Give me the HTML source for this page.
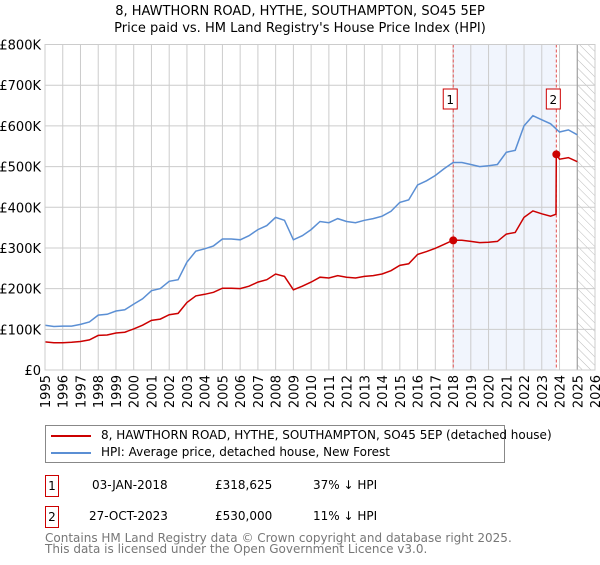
<!DOCTYPE html>
<html><head><meta charset="utf-8"><style>
body{margin:0;background:#fff;font-family:"Liberation Sans","DejaVu Sans",sans-serif}
svg text{font-family:"DejaVu Sans","Liberation Sans",sans-serif}
</style></head><body>
<svg id="c" width="600" height="560" xmlns="http://www.w3.org/2000/svg">
<defs><pattern id="hatch" width="6" height="6" patternUnits="userSpaceOnUse" patternTransform="rotate(-45)"><line x1="0" y1="0" x2="0" y2="6" stroke="#bbb" stroke-width="1"/></pattern></defs>
<text x="300" y="15" text-anchor="middle" font-size="13">8, HAWTHORN ROAD, HYTHE, SOUTHAMPTON, SO45 5EP</text>
<text x="300" y="32" text-anchor="middle" font-size="13">Price paid vs. HM Land Registry's House Price Index (HPI)</text>
<g id="plot"></g>
</svg>
<script>
const years=[1995,1995.5,1996,1996.5,1997,1997.5,1998,1998.5,1999,1999.5,2000,2000.5,2001,2001.5,2002,2002.5,2003,2003.5,2004,2004.5,2005,2005.5,2006,2006.5,2007,2007.5,2008,2008.5,2009,2009.5,2010,2010.5,2011,2011.5,2012,2012.5,2013,2013.5,2014,2014.5,2015,2015.5,2016,2016.5,2017,2017.5,2018,2018.5,2019,2019.5,2020,2020.5,2021,2021.5,2022,2022.5,2023,2023.5,2024,2024.5,2025];
const hpi=[110,107,108,108,112,118,135,137,145,148,162,175,195,200,218,222,265,292,298,305,322,322,320,330,345,355,375,368,320,330,345,365,362,372,365,362,368,372,378,390,412,418,455,465,478,495,510,510,505,500,502,505,535,540,600,625,615,605,585,590,578];
const redYears=[1995,1995.5,1996,1996.5,1997,1997.5,1998,1998.5,1999,1999.5,2000,2000.5,2001,2001.5,2002,2002.5,2003,2003.5,2004,2004.5,2005,2005.5,2006,2006.5,2007,2007.5,2008,2008.5,2009,2009.5,2010,2010.5,2011,2011.5,2012,2012.5,2013,2013.5,2014,2014.5,2015,2015.5,2016,2016.5,2017,2017.5,2018,2018.5,2019,2019.5,2020,2020.5,2021,2021.5,2022,2022.5,2023,2023.5,2023.8,2023.82,2024,2024.5,2025];
const red=[69,67,67,68,70,74,85,86,91,93,101,110,122,125,136,139,166,182,186,191,201,201,200,206,216,222,236,230,197,206,216,228,226,232,228,226,230,232,236,244,257,261,284,291,299,309,319,319,316,313,314,316,334,338,375,391,384,378,383,530,518,522,512];
const saleYears=[2018.01,2023.82];
const saleValues=[318.625,530];
const saleLabels=["1","2"];
const yTicks=[0,100,200,300,400,500,600,700,800];
const yTickLabels=["£0","£100K","£200K","£300K","£400K","£500K","£600K","£700K","£800K"];
const xTicks=[];for(let y=1995;y<=2026;y++)xTicks.push(y);

const X0=45,X1=595,Y0=370,Y1=44.5;
const xs=v=>X0+(v-1995)/(2026-1995)*(X1-X0);
const ys=v=>Y0-(v/800)*(Y0-Y1);
const NS="http://www.w3.org/2000/svg";
const g=document.getElementById('plot');
function mk(t,a,p){const e=document.createElementNS(NS,t);for(const k in a)e.setAttribute(k,a[k]);(p||g).appendChild(e);return e;}
let e;
e=mk('rect',{x:xs(saleYears[0]),y:Y1,width:xs(saleYears[1])-xs(saleYears[0]),height:Y0-Y1,fill:'#eef3fc',opacity:0.8});


e=mk('rect',{x:xs(2025),y:Y1,width:X1-xs(2025),height:Y0-Y1,fill:'url(#hatch)'});


xTicks.forEach(t=>{
 e=mk('line',{x1:xs(t),x2:xs(t),y1:Y1,y2:Y0,stroke:'#ccc','stroke-width':1});
 
 
 e=mk('text',{x:0,y:0,'font-size':13,'text-anchor':'end',transform:`translate(${xs(t)+5},${Y0+5}) rotate(-90)`});
 e.textContent=t;
 
 
});
yTicks.forEach((t,i)=>{
 e=mk('line',{x1:X0,x2:X1,y1:ys(t),y2:ys(t),stroke:'#ccc','stroke-width':1});
 
 
 e=mk('text',{x:X0-4,y:ys(t)+5,'font-size':13,'text-anchor':'end'});
 e.textContent=yTickLabels[i];
 
 
});
e=mk('line',{x1:xs(2025),x2:xs(2025),y1:Y1,y2:Y0,stroke:'#999','stroke-width':1});


saleYears.forEach((s,i)=>{
 e=mk('line',{x1:xs(s),x2:xs(s),y1:Y1,y2:Y0,stroke:'#e05050','stroke-width':1,'stroke-dasharray':'3,2'});
 
 
 e=mk('rect',{x:xs(s)-10,y:89,width:14,height:20,fill:'#fff',stroke:'#c00','stroke-width':1});
 
 
 e=mk('text',{x:xs(s)-3,y:104,'font-size':12,'text-anchor':'middle'});
 e.textContent=saleLabels[i];
 
 
});
e=mk('path',{d:years.map((y,i)=>(i?'L':'M')+xs(y).toFixed(1)+','+ys(hpi[i]).toFixed(1)).join(''),fill:'none',stroke:'#5b8fd4','stroke-width':1.5});


e=mk('path',{d:redYears.map((y,i)=>(i?'L':'M')+xs(y).toFixed(1)+','+ys(red[i]).toFixed(1)).join(''),fill:'none',stroke:'#cc0000','stroke-width':1.5});


saleYears.forEach((s,i)=>{
 e=mk('circle',{cx:xs(s),cy:ys(saleValues[i]),r:4,fill:'#cc0000'});
 
 
});
e=mk('rect',{x:X0,y:Y1,width:X1-X0,height:Y0-Y1,fill:'none',stroke:'#ccc'});


</script>
<div style="position:absolute;left:45px;top:425px;width:458px;height:36px;border:1px solid #888;font-size:12px;font-family:'DejaVu Sans','Liberation Sans',sans-serif">
 <div style="position:absolute;left:5px;top:2px;white-space:nowrap"><span style="display:inline-block;width:40px;height:2px;background:#cc0000;vertical-align:middle;margin-right:10px"></span>8, HAWTHORN ROAD, HYTHE, SOUTHAMPTON, SO45 5EP (detached house)</div>
 <div style="position:absolute;left:5px;top:19px;white-space:nowrap"><span style="display:inline-block;width:40px;height:2px;background:#5b8fd4;vertical-align:middle;margin-right:10px"></span>HPI: Average price, detached house, New Forest</div>
</div>
<div style="position:absolute;left:45px;top:475px;font-size:12px;font-family:'DejaVu Sans','Liberation Sans',sans-serif">
 <div style="position:absolute;top:0;white-space:nowrap">
  <span style="position:absolute;left:0;top:0;width:12px;height:20px;border:1px solid #c00;text-align:center;line-height:20px">1</span>
  <span style="position:absolute;left:47px;top:3px">03-JAN-2018</span>
  <span style="position:absolute;left:170px;top:3px">£318,625</span>
  <span style="position:absolute;left:268px;top:3px">37% ↓ HPI</span>
 </div>
 <div style="position:absolute;top:31px;white-space:nowrap">
  <span style="position:absolute;left:0;top:0;width:12px;height:20px;border:1px solid #c00;text-align:center;line-height:20px">2</span>
  <span style="position:absolute;left:44px;top:3px">27-OCT-2023</span>
  <span style="position:absolute;left:170px;top:3px">£530,000</span>
  <span style="position:absolute;left:268px;top:3px">11% ↓ HPI</span>
 </div>
</div>
<div style="position:absolute;left:45px;top:533px;font-size:12px;line-height:11px;color:#777;font-family:'DejaVu Sans','Liberation Sans',sans-serif;white-space:nowrap">Contains HM Land Registry data © Crown copyright and database right 2025.<br>This data is licensed under the Open Government Licence v3.0.</div>
</body></html>
